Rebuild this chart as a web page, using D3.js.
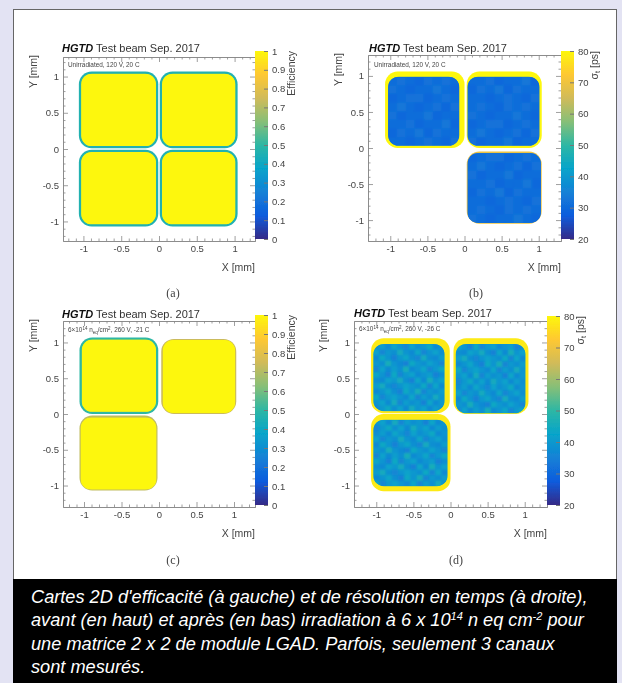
<!DOCTYPE html>
<html>
<head>
<meta charset="utf-8">
<script src="https://cdn.jsdelivr.net/npm/d3@7"></script>
<style>
  html, body { margin: 0; padding: 0; background: #e3e3f3; }
  svg { display: block; }
  text { font-family: "Liberation Sans", Arial, sans-serif; }
</style>
</head>
<body>
<svg id="chart" width="622" height="683"></svg>
<script>
// ROOT "bird" palette
const birdStops = ["#352a87", "#0f5cdd", "#1481d6", "#06a4ca", "#2eb7a4", "#87bf77", "#d1bb59", "#fec832", "#fdf70a"];

const effTicks = [0, 0.1, 0.2, 0.3, 0.4, 0.5, 0.6, 0.7, 0.8, 0.9, 1];
const effTickLabels = ["0", "0.1", "0.2", "0.3", "0.4", "0.5", "0.6", "0.7", "0.8", "0.9", "1"];
const resTicks = [20, 30, 40, 50, 60, 70, 80];
const resTickLabels = ["20", "30", "40", "50", "60", "70", "80"];
const axisTicks = [-1, -0.5, 0, 0.5, 1];
const axisTickLabels = ["-1", "-0.5", "0", "0.5", "1"];
const minorTicks = [-1.2, -1.1, -0.9, -0.8, -0.7, -0.6, -0.4, -0.3, -0.2, -0.1, 0.1, 0.2, 0.3, 0.4, 0.6, 0.7, 0.8, 0.9, 1.1, 1.2];

// pad boxes: [xMin, xMax, yMin, yMax] in mm
const padsA = [[-1.06, -0.01, 0.01, 1.07], [0.01, 1.04, 0.01, 1.07], [-1.06, -0.01, -1.07, -0.01], [0.01, 1.04, -1.07, -0.01]];
const coresA = [[-1.03, -0.04, 0.04, 1.04], [0.04, 1.01, 0.04, 1.04], [-1.03, -0.04, -1.04, -0.04], [0.04, 1.01, -1.04, -0.04]];
const edgeA = [0.46, 0.46, 0.46, 0.46];

const padsB = [[-1.07, 0, 0, 1.06], [0.03, 1.04, 0, 1.06], [0.03, 1.04, -1.05, -0.05]];
const coresB = [[-1.03, -0.07, 0.03, 0.99], [0.04, 1.01, 0.03, 0.99], [0.04, 1.03, -1.04, -0.07]];
const edgeB = [80, 80, 70];

const padsC = [[-1.06, -0.01, 0, 1.07], [0.03, 1.03, 0, 1.05], [-1.06, -0.02, -1.07, -0.02]];
const coresC = [[-1.03, -0.04, 0.03, 1.04], [0.05, 1.015, 0.015, 1.035], [-1.045, -0.035, -1.055, -0.05]];
const edgeC = [0.5, 0.74, 0.72];

const padsD = [[-1.07, -0.01, 0.01, 1.06], [0.04, 1.05, 0, 1.06], [-1.07, 0, -1.08, 0]];
const coresD = [[-1.04, -0.08, 0.04, 0.98], [0.07, 1.01, 0.01, 0.98], [-1.04, -0.04, -1.01, -0.08]];
const edgeD = [78, 78, 78];

const gridEff = [[1]];
const gridResB = [
  [31, 32, 31, 30, 32, 31, 32, 31],
  [32, 31, 30, 31, 31, 33, 31, 30],
  [30, 31, 32, 32, 30, 31, 32, 31],
  [31, 33, 31, 30, 31, 32, 30, 32],
  [32, 30, 31, 31, 33, 30, 31, 31],
  [31, 31, 32, 30, 31, 31, 33, 30],
  [30, 32, 31, 33, 30, 32, 31, 31],
  [31, 31, 30, 31, 32, 31, 30, 32]
];
const gridResD = [
  [38, 41, 37, 43, 39, 36, 42, 38, 40, 44, 37, 39],
  [42, 36, 40, 38, 45, 39, 37, 43, 36, 39, 42, 38],
  [37, 44, 39, 35, 40, 43, 38, 36, 45, 38, 37, 41],
  [40, 38, 46, 39, 37, 35, 44, 40, 38, 42, 39, 36],
  [36, 42, 37, 41, 38, 46, 37, 39, 43, 36, 40, 44],
  [43, 39, 35, 44, 36, 40, 42, 37, 39, 41, 35, 38],
  [38, 37, 42, 40, 45, 38, 35, 43, 37, 46, 39, 42],
  [41, 45, 38, 36, 39, 42, 40, 38, 44, 36, 43, 37],
  [37, 39, 43, 38, 35, 44, 39, 46, 36, 40, 38, 41],
  [44, 36, 40, 42, 39, 37, 43, 36, 41, 38, 45, 39],
  [39, 42, 37, 45, 36, 41, 38, 40, 35, 43, 37, 40],
  [36, 40, 44, 38, 42, 37, 45, 39, 42, 37, 41, 38]
];

const captionLines = [
  "Cartes 2D d'efficacité (à gauche) et de résolution en temps (à droite),",
  ["avant (en haut) et après (en bas) irradiation à 6 x 10", "14", " n eq cm", "-2", " pour"],
  "une matrice 2 x 2 de module LGAD. Parfois, seulement 3 canaux",
  "sont mesurés."
];

const svg = d3.select("#chart");
const palette = d3.piecewise(d3.interpolateRgb, birdStops);

const defs = svg.append("defs");
function addBlur(id, amount) {
  defs.append("filter").attr("id", id).attr("x", "-5%").attr("y", "-5%").attr("width", "110%").attr("height", "110%")
    .append("feGaussianBlur").attr("stdDeviation", amount);
}
addBlur("soft", 0.6);
addBlur("softer", 0.65);
addBlur("mottle", 1.1);

const barGradient = defs.append("linearGradient").attr("id", "birdBar")
  .attr("x1", "0%").attr("x2", "0%").attr("y1", "100%").attr("y2", "0%");
birdStops.forEach((c, i) => {
  barGradient.append("stop").attr("offset", `${i / (birdStops.length - 1) * 100}%`).attr("stop-color", c);
});

// page frame and caption box
svg.append("rect").attr("x", 13.5).attr("y", 9.5).attr("width", 603).attr("height", 570)
  .attr("fill", "#fff").attr("stroke", "#666");
svg.append("rect").attr("x", 13).attr("y", 579).attr("width", 604).attr("height", 104).attr("fill", "#000");

const panels = [
  { id: "a", left: 63, right: 255, top: 57, bottom: 241, xMax: 1.27, yMax: 1.27,
    barX: 255, barTop: 51, barBottom: 239, titleX: 62, titleY: 52, subX: 68, subY: 67,
    yTitleX: 37, zTitleX: 295, sub: ["Unirradiated, 120 V, 20 C"],
    pads: padsA, cores: coresA, edge: edgeA, grid: gridEff, zDomain: [0, 1],
    zTicks: effTicks, zLabels: effTickLabels, zTitle: ["Efficiency"], label: "(a)", labelX: 173, labelY: 297 },
  { id: "b", left: 368, right: 561, top: 55, bottom: 241, xMax: 1.3, yMax: 1.29,
    barX: 561, barTop: 51, barBottom: 239, titleX: 369, titleY: 52, subX: 374, subY: 67,
    yTitleX: 342, zTitleX: 598, sub: ["Unirradiated, 120 V, 20 C"],
    pads: padsB, cores: coresB, edge: edgeB, grid: gridResB, zDomain: [20, 80],
    zTicks: resTicks, zLabels: resTickLabels, zTitle: ["σ", "t", " [ps]"], label: "(b)", labelX: 476, labelY: 297 },
  { id: "c", left: 63, right: 255, top: 321, bottom: 507, xMax: 1.28, yMax: 1.3,
    barX: 255, barTop: 315, barBottom: 505, titleX: 62, titleY: 318, subX: 68, subY: 332,
    yTitleX: 37, zTitleX: 295, sub: ["6×10", "14", " n", "eq", "/cm", "2", ", 260 V, -21 C"],
    pads: padsC, cores: coresC, edge: edgeC, grid: gridEff, zDomain: [0, 1],
    zTicks: effTicks, zLabels: effTickLabels, zTitle: ["Efficiency"], label: "(c)", labelX: 173, labelY: 564 },
  { id: "d", left: 354, right: 547, top: 321, bottom: 507, xMax: 1.3, yMax: 1.3,
    barX: 547, barTop: 316, barBottom: 505, titleX: 354, titleY: 317, subX: 359, subY: 331,
    yTitleX: 327, zTitleX: 584, sub: ["6×10", "14", " n", "eq", "/cm", "2", ", 260 V, -26 C"],
    pads: padsD, cores: coresD, edge: edgeD, grid: gridResD, zDomain: [20, 80],
    zTicks: resTicks, zLabels: resTickLabels, zTitle: ["σ", "t", " [ps]"], label: "(d)", labelX: 456, labelY: 564 }
];

panels.forEach(drawPanel);
drawCaption();

function drawPanel(p) {
  const x = d3.scaleLinear().domain([-p.xMax, p.xMax]).range([p.left, p.right]);
  const y = d3.scaleLinear().domain([-p.yMax, p.yMax]).range([p.bottom, p.top]);
  const z = d3.scaleLinear().domain(p.zDomain).range([0, 1]);
  const bar = d3.scaleLinear().domain(p.zDomain).range([p.barBottom, p.barTop]);
  const color = v => palette(z(v));
  const marks = svg.append("g").attr("filter", "url(#softer)");
  const g = svg.append("g").attr("filter", "url(#soft)");

  // pads: edge ring first, then the clipped core cells
  const radius = 0.17;
  p.pads.forEach((b, i) => {
    marks.append("rect")
      .attr("x", x(b[0])).attr("y", y(b[3]))
      .attr("width", x(b[1]) - x(b[0])).attr("height", y(b[2]) - y(b[3]))
      .attr("rx", x(radius) - x(0)).attr("fill", color(p.edge[i]));

    const c = p.cores[i];
    const clipId = `core-${p.id}-${i}`;
    defs.append("clipPath").attr("id", clipId).append("rect")
      .attr("x", x(c[0])).attr("y", y(c[3]))
      .attr("width", x(c[1]) - x(c[0])).attr("height", y(c[2]) - y(c[3]))
      .attr("rx", x(radius * 0.85) - x(0));

    const n = p.grid.length;
    const cx = d3.scaleBand().domain(d3.range(n)).range([x(c[0]), x(c[1])]);
    const cy = d3.scaleBand().domain(d3.range(n)).range([y(c[3]), y(c[2])]);
    // rows are read from a different start for each pad
    const cells = p.grid.flatMap((row, r) => row.map((v, k) => ({ r, k, v: p.grid[(r + i * 5) % n][k] })));
    const clip = marks.append("g").attr("clip-path", `url(#${clipId})`);
    clip.append("rect")
      .attr("x", x(c[0])).attr("y", y(c[3]))
      .attr("width", x(c[1]) - x(c[0])).attr("height", y(c[2]) - y(c[3]))
      .attr("fill", color(d3.mean(cells, d => d.v)));
    clip.append("g").attr("filter", "url(#mottle)")
      .selectAll("rect").data(cells).enter().append("rect")
      .attr("x", d => cx(d.k)).attr("y", d => cy(d.r))
      .attr("width", cx.bandwidth() + 0.5).attr("height", cy.bandwidth() + 0.5)
      .attr("fill", d => color(d.v));
  });

  // frame axes, inward ticks like ROOT
  const sides = [
    { axis: d3.axisBottom(x), at: `translate(0,${p.bottom})`, labels: true },
    { axis: d3.axisTop(x), at: `translate(0,${p.top})`, labels: false },
    { axis: d3.axisLeft(y), at: `translate(${p.left},0)`, labels: true },
    { axis: d3.axisRight(y), at: `translate(${p.right},0)`, labels: false }
  ];
  sides.forEach(s => {
    g.append("g").attr("transform", s.at).attr("class", "minor")
      .call(s.axis.tickValues(minorTicks).tickSizeInner(-2.5).tickSizeOuter(0).tickFormat(""));
    g.append("g").attr("transform", s.at).attr("class", "major")
      .call(s.axis.tickValues(axisTicks).tickSizeInner(-5).tickSizeOuter(0).tickPadding(4)
        .tickFormat((d, i) => s.labels ? axisTickLabels[i] : ""));
  });
  g.selectAll(".minor path, .major path, .minor line, .major line").attr("stroke", "#888").attr("stroke-width", 0.8);
  g.selectAll(".major text").attr("font-size", 9.5).attr("fill", "#444").attr("font-family", "Liberation Sans");

  // colour bar
  g.append("rect").attr("x", p.barX).attr("y", p.barTop)
    .attr("width", 13).attr("height", p.barBottom - p.barTop).attr("fill", "url(#birdBar)");
  const zAxis = g.append("g").attr("transform", `translate(${p.barX + 13},0)`)
    .call(d3.axisRight(bar).tickValues(p.zTicks).tickSizeInner(-4).tickSizeOuter(0).tickPadding(4)
      .tickFormat((d, i) => p.zLabels[i]));
  zAxis.select("path").remove();
  zAxis.selectAll("line").attr("stroke", "#777");
  zAxis.selectAll("text").attr("font-size", 9.5).attr("fill", "#444").attr("font-family", "Liberation Sans");

  // titles
  const title = g.append("text").attr("x", p.titleX).attr("y", p.titleY).attr("font-size", 11).attr("fill", "#333");
  title.append("tspan").attr("font-weight", "bold").attr("font-style", "italic").attr("fill", "#111").text("HGTD");
  title.append("tspan").text(" Test beam Sep. 2017");

  const sub = g.append("text").attr("x", p.subX).attr("y", p.subY).attr("font-size", 6.4).attr("fill", "#444");
  p.sub.forEach((part, i) => {
    const shift = (part === "14" || part === "2") ? -2 : part === "eq" ? 1.5 : 0;
    const prev = (p.sub[i - 1] === "14" || p.sub[i - 1] === "2") ? 2 : p.sub[i - 1] === "eq" ? -1.5 : 0;
    sub.append("tspan").attr("dy", shift + prev).attr("font-size", shift ? 4.5 : 6.4).text(part);
  });

  g.append("text").attr("x", p.right).attr("y", p.bottom + 30).attr("text-anchor", "end")
    .attr("font-size", 10.5).attr("fill", "#444").text("X [mm]");
  g.append("text").attr("transform", `translate(${p.yTitleX},${p.top - 2}) rotate(-90)`).attr("text-anchor", "end")
    .attr("font-size", 10.5).attr("fill", "#444").text("Y [mm]");
  const zTitle = g.append("text").attr("transform", `translate(${p.zTitleX},${p.barTop}) rotate(-90)`).attr("text-anchor", "end")
    .attr("font-size", 10.5).attr("fill", "#444");
  p.zTitle.forEach((part, i) => {
    const isSub = part === "t";
    zTitle.append("tspan").attr("dy", isSub ? 2 : i ? -2 : 0).attr("font-size", isSub ? 7.5 : 10.5).text(part);
  });
  g.append("text").attr("x", p.labelX).attr("y", p.labelY).attr("text-anchor", "middle")
    .attr("font-size", 12).attr("fill", "#444").style("font-family", "Liberation Serif").text(p.label);
}

function drawCaption() {
  const baseline = d3.scaleLinear().domain([0, 3]).range([603, 673]);
  captionLines.forEach((line, i) => {
    const t = svg.append("text").attr("x", 31).attr("y", baseline(i))
      .attr("font-size", 18.2).attr("font-style", "italic").attr("fill", "#fff");
    if (typeof line === "string") { t.text(line); return; }
    line.forEach((part, j) => {
      const up = j % 2 === 1;
      t.append("tspan").attr("dy", up ? -6 : j ? 6 : 0).attr("font-size", up ? 11 : 18.2).text(part);
    });
  });
}
</script>
</body>
</html>
